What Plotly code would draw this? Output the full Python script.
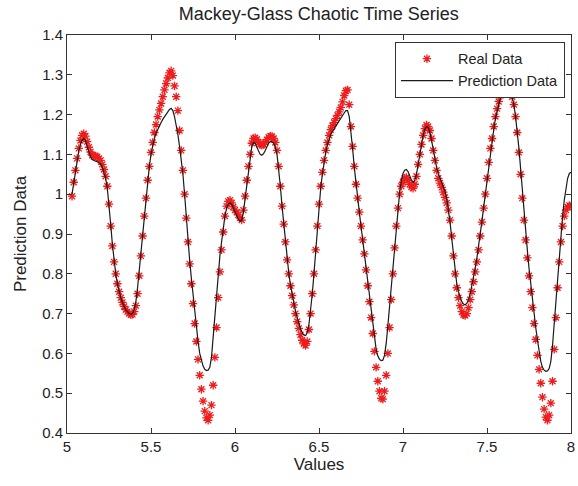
import numpy as np
import plotly.graph_objects as go

# x grid: time values 5.03 .. 8.00 step 0.01
x_values = np.round(np.arange(503, 801) / 100.0, 2)

real_data = [
    0.995, 1.03, 1.06, 1.09, 1.115, 1.135, 1.148,
    1.152, 1.146, 1.132, 1.118, 1.106, 1.098, 1.095, 1.096, 1.094, 1.09,
    1.085, 1.075, 1.062, 1.045, 1.02, 0.975, 0.92, 0.87, 0.83, 0.80,
    0.775, 0.755, 0.74, 0.728, 0.718, 0.71, 0.705, 0.70, 0.697, 0.698,
    0.705, 0.72, 0.75, 0.795, 0.845, 0.895, 0.945, 0.99, 1.035, 1.07,
    1.105, 1.13, 1.155, 1.175, 1.195, 1.212, 1.228, 1.245, 1.262, 1.278,
    1.292, 1.305, 1.31, 1.298, 1.272, 1.245, 1.21, 1.16, 1.11, 1.06,
    1.0, 0.94, 0.88, 0.825, 0.775, 0.725, 0.675, 0.63, 0.585, 0.545,
    0.51, 0.48, 0.455, 0.438, 0.432, 0.445, 0.47, 0.52, 0.59, 0.665,
    0.74, 0.805, 0.86, 0.905, 0.945, 0.97, 0.982, 0.985, 0.978, 0.968,
    0.96, 0.955, 0.948, 0.94, 0.935, 0.96, 0.995, 1.035, 1.07, 1.10,
    1.128, 1.14, 1.142, 1.138, 1.13, 1.125, 1.123, 1.125, 1.13, 1.137,
    1.143, 1.146, 1.145, 1.14, 1.13, 1.11, 1.07, 1.02, 0.97, 0.925,
    0.88, 0.835, 0.80, 0.77, 0.745, 0.722, 0.70, 0.68, 0.663, 0.647,
    0.633, 0.624, 0.62, 0.63, 0.66, 0.70, 0.75, 0.80, 0.86, 0.92,
    0.975, 1.02, 1.055, 1.085, 1.11, 1.13, 1.148, 1.162, 1.172, 1.18,
    1.19, 1.198, 1.207, 1.218, 1.232, 1.248, 1.26, 1.262, 1.225, 1.17,
    1.12, 1.07, 1.025, 0.99, 0.955, 0.92, 0.885, 0.85, 0.81, 0.77,
    0.73, 0.69, 0.65, 0.605, 0.565, 0.53, 0.505, 0.487, 0.485, 0.505,
    0.545, 0.60, 0.665, 0.735, 0.80, 0.865, 0.92, 0.965, 1.0, 1.02,
    1.03, 1.04, 1.042, 1.035, 1.025, 1.018, 1.015, 1.025, 1.045, 1.075,
    1.10, 1.125, 1.148, 1.165, 1.174, 1.17, 1.16, 1.14, 1.11, 1.085,
    1.06, 1.04, 1.028, 1.017, 1.005, 0.992, 0.978, 0.96, 0.935, 0.895,
    0.845, 0.80, 0.765, 0.74, 0.72, 0.705, 0.697, 0.695, 0.70, 0.715,
    0.735, 0.755, 0.78, 0.805, 0.83, 0.86, 0.895, 0.93, 0.965, 1.0,
    1.04, 1.08, 1.115, 1.14, 1.17, 1.195, 1.215, 1.233, 1.248, 1.262,
    1.275, 1.283, 1.285, 1.28, 1.265, 1.245, 1.225, 1.195, 1.155, 1.105,
    1.05, 0.99, 0.935, 0.885, 0.84, 0.795, 0.755, 0.715, 0.675, 0.635,
    0.595, 0.56, 0.525, 0.49, 0.46, 0.44, 0.432, 0.445, 0.475, 0.53,
    0.61, 0.69, 0.765, 0.83, 0.88, 0.92, 0.945, 0.96, 0.968, 0.972,
    0.97,
]

prediction_data = [
    1.0, 1.03, 1.058, 1.085, 1.108, 1.125, 1.136,
    1.14, 1.135, 1.12, 1.105, 1.094, 1.087, 1.084, 1.083, 1.082, 1.08,
    1.076, 1.068, 1.056, 1.04, 1.015, 0.975, 0.925, 0.875, 0.835, 0.80,
    0.775, 0.755, 0.74, 0.728, 0.718, 0.71, 0.705, 0.70, 0.698, 0.70,
    0.71, 0.73, 0.765, 0.81, 0.855, 0.905, 0.95, 0.995, 1.035, 1.07,
    1.1, 1.122, 1.14, 1.153, 1.163, 1.172, 1.18, 1.188, 1.195, 1.202,
    1.208, 1.213, 1.216, 1.21, 1.195, 1.175, 1.15, 1.12, 1.09, 1.05,
    1.0, 0.94, 0.885, 0.835, 0.79, 0.745, 0.705, 0.665, 0.63, 0.60,
    0.58, 0.568, 0.56, 0.557, 0.558, 0.565, 0.59, 0.64, 0.70, 0.755,
    0.80, 0.845, 0.88, 0.915, 0.945, 0.965, 0.975, 0.978, 0.975, 0.965,
    0.955, 0.945, 0.937, 0.932, 0.935, 0.955, 0.99, 1.03, 1.065, 1.095,
    1.12, 1.13, 1.128, 1.118, 1.107, 1.1, 1.098, 1.102, 1.11, 1.12,
    1.128, 1.132, 1.132, 1.128, 1.118, 1.1, 1.065, 1.02, 0.97, 0.925,
    0.88, 0.838, 0.802, 0.772, 0.748, 0.727, 0.707, 0.69, 0.675, 0.662,
    0.652, 0.646, 0.645, 0.652, 0.672, 0.705, 0.75, 0.80, 0.855, 0.915,
    0.97, 1.015, 1.05, 1.08, 1.105, 1.125, 1.14, 1.15, 1.158, 1.165,
    1.172, 1.178, 1.184, 1.19, 1.197, 1.204, 1.21, 1.21, 1.195, 1.16,
    1.115, 1.068, 1.025, 0.99, 0.955, 0.92, 0.885, 0.85, 0.81, 0.77,
    0.735, 0.70, 0.665, 0.635, 0.61, 0.594, 0.585, 0.582, 0.583, 0.595,
    0.625, 0.67, 0.72, 0.77, 0.82, 0.87, 0.92, 0.965, 1.005, 1.035,
    1.052, 1.06, 1.062, 1.057, 1.045, 1.035, 1.03, 1.035, 1.05, 1.075,
    1.10, 1.125, 1.148, 1.163, 1.17, 1.168, 1.155, 1.135, 1.11, 1.088,
    1.068, 1.052, 1.04, 1.03, 1.02, 1.008, 0.99, 0.965, 0.93, 0.89,
    0.845, 0.805, 0.775, 0.755, 0.74, 0.73, 0.724, 0.722, 0.726, 0.735,
    0.75, 0.77, 0.792, 0.815, 0.84, 0.868, 0.9, 0.933, 0.967, 1.0,
    1.038, 1.075, 1.108, 1.135, 1.162, 1.19, 1.21, 1.228, 1.243, 1.256,
    1.266, 1.272, 1.274, 1.27, 1.26, 1.245, 1.225, 1.195, 1.16, 1.115,
    1.065, 1.01, 0.955, 0.905, 0.86, 0.815, 0.775, 0.735, 0.70, 0.665,
    0.635, 0.605, 0.58, 0.565, 0.558, 0.555, 0.556, 0.562, 0.58, 0.62,
    0.675, 0.735, 0.795, 0.85, 0.90, 0.945, 0.985, 1.015, 1.04, 1.052,
    1.055,
]

x_ticks = [5, 5.5, 6, 6.5, 7, 7.5, 8]
x_tick_labels = ["5", "5.5", "6", "6.5", "7", "7.5", "8"]
y_ticks = [0.4, 0.5, 0.6, 0.7, 0.8, 0.9, 1.0, 1.1, 1.2, 1.3, 1.4]
y_tick_labels = ["0.4", "0.5", "0.6", "0.7", "0.8", "0.9", "1", "1.1", "1.2", "1.3", "1.4"]

n = min(len(x_values), len(real_data), len(prediction_data))

FONT = "Liberation Sans, Arial, sans-serif"

fig = go.Figure()
fig.add_trace(go.Scatter(
    x=x_values[:n], y=real_data[:n], mode="markers", name="Real Data",
    marker=dict(symbol="asterisk-open", size=7, color="#ee1c1c",
                line=dict(color="#ee1c1c", width=1.3)),
))
fig.add_trace(go.Scatter(
    x=x_values[:n], y=prediction_data[:n], mode="lines", name="Prediction Data",
    line=dict(color="#1a1a1a", width=1.2),
))

axis_common = dict(
    showline=True, linecolor="#333333", linewidth=1, mirror="allticks",
    ticks="inside", ticklen=5, tickcolor="#333333", showgrid=False, zeroline=False,
    automargin=False,
    tickfont=dict(family=FONT, size=15, color="#222222"),
)

fig.update_layout(
    width=578, height=486,
    margin=dict(l=67, r=7, t=35, b=53),
    paper_bgcolor="white", plot_bgcolor="white",
    title=dict(text="Mackey-Glass Chaotic Time Series", x=0.5515, xanchor="center",
               y=0.972, yanchor="middle",
               font=dict(family=FONT, size=18, color="#222222")),
    xaxis=dict(range=[5, 8], tickvals=x_ticks, ticktext=x_tick_labels,
               title=dict(text="Values", font=dict(family=FONT, size=17, color="#222222"), standoff=2),
               **axis_common),
    yaxis=dict(range=[0.4, 1.4], tickvals=y_ticks, ticktext=y_tick_labels,
               title=dict(text="Prediction Data", font=dict(family=FONT, size=17, color="#222222"), standoff=11),
               **axis_common),
    legend=dict(x=0.988, y=0.983, xanchor="right", yanchor="top",
                bgcolor="white", bordercolor="#333333", borderwidth=1,
                font=dict(family=FONT, size=14.5, color="#222222"),
                tracegroupgap=0, itemwidth=52),
    showlegend=True,
)

fig.write_html("out.html", config={"displayModeBar": False},
               post_script="document.body.style.margin='0';document.body.style.padding='0';")
